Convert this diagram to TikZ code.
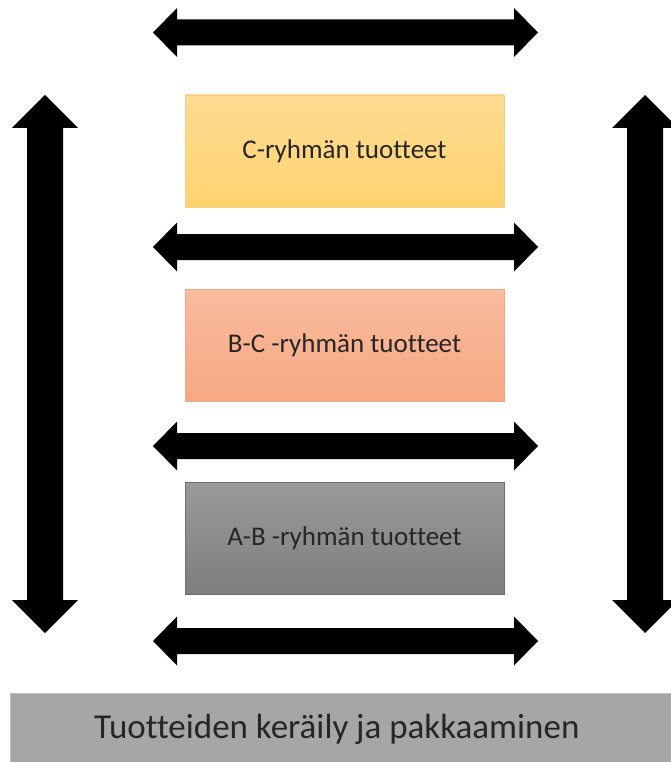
\documentclass[tikz,border=0pt]{standalone}
\usepackage{fontspec}
\setmainfont{Carlito}[Ligatures=CommonOff]
\begin{document}
\begin{tikzpicture}[x=1pt,y=-1pt,
  groupbox/.style={rectangle, minimum width=319pt, minimum height=112pt,
    inner sep=0pt, line width=0.8pt, text=black!85,
    font=\fontsize{27}{31}\selectfont},
  harrow/.pic={
    \fill[black] (153,0) -- (177,-24.5) -- (177,-13) -- (514,-13) -- (514,-24.5)
      -- (538,0) -- (514,24.5) -- (514,13) -- (177,13) -- (177,24.5) -- cycle;
  },
  varrow/.pic={
    \fill[black] (0,95) -- (33,128) -- (18,128) -- (18,600) -- (33,600)
      -- (0,633) -- (-33,600) -- (-18,600) -- (-18,128) -- (-33,128) -- cycle;
  }
]
\definecolor{ctop}{HTML}{FEDB93}
\definecolor{cbot}{HTML}{FFD36F}
\definecolor{cline}{HTML}{F2CF86}
\definecolor{btop}{HTML}{F9BB9E}
\definecolor{bbot}{HTML}{F7A883}
\definecolor{bline}{HTML}{EBAA8E}
\definecolor{atop}{HTML}{9A9A9A}
\definecolor{abot}{HTML}{7E7E7E}
\definecolor{aline}{HTML}{6E6E6E}
\definecolor{barfill}{HTML}{A6A6A6}

\useasboundingbox (0,0) rectangle (671,762);
\fill[white] (0,0) rectangle (671,762);

% product group boxes
\node[groupbox, draw=cline, top color=ctop, bottom color=cbot] (cgroup) at (344.5,151) {\raisebox{-3pt}{C-ryhmän tuotteet}};
\node[groupbox, draw=bline, top color=btop, bottom color=bbot] (bcgroup) at (344.5,345) {\raisebox{-3pt}{B-C -ryhmän tuotteet}};
\node[groupbox, draw=aline, top color=atop, bottom color=abot] (abgroup) at (344.5,538) {\raisebox{-3pt}{A-B -ryhmän tuotteet}};

% picking and packing bar
\node[rectangle, fill=barfill, draw=black!25, line width=0.6pt, inner sep=0pt,
  minimum width=671pt, minimum height=72pt, anchor=north west,
  text=black!85, font=\fontsize{35}{41}\selectfont] (packing) at (10,693)
  {\hspace*{-18pt}Tuotteiden keräily ja pakkaaminen};

% horizontal two-way arrows between the levels
\pic (h1) at (0,32.5) {harrow};
\pic (h2) at (0,247) {harrow};
\pic (h3) at (0,446) {harrow};
\pic (h4) at (0,641) {harrow};

% vertical two-way arrows on both sides
\pic (vleft) at (45,0) {varrow};
\pic (vright) at (645,0) {varrow};
\end{tikzpicture}
\end{document}
